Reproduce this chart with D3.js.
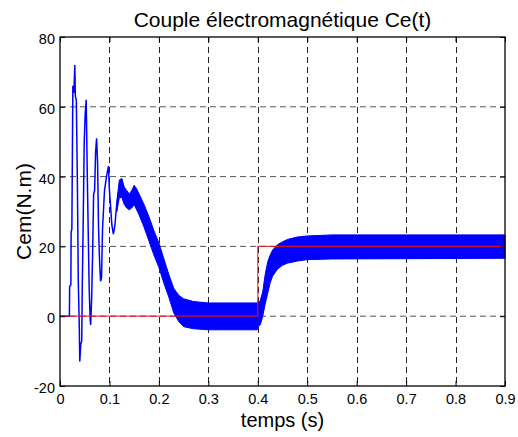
<!DOCTYPE html>
<html>
<head>
<meta charset="utf-8">
<script src="https://cdn.jsdelivr.net/npm/d3@7"></script>
<style>
  body { margin: 0; background: #fff; }
  text { font-family: "Liberation Sans", Arial, sans-serif; fill: #000; }
</style>
</head>
<body>
<div id="chart"></div>
<script>
/* CONSTANTS AND GLOBALS */

// plot box inside the 518x437 window
var margin = {top: 37, right: 13, bottom: 51, left: 60},
    width = 518 - margin.left - margin.right,
    height = 437 - margin.top - margin.bottom;

// tick labels
var xTicks = [0, 0.1, 0.2, 0.3, 0.4, 0.5, 0.6, 0.7, 0.8, 0.9];
var yTicks = [-20, 0, 20, 40, 60, 80];

// start-up transient of Ce(t) (s, N.m)
var transTime  = [0, 0.019, 0.0195, 0.022, 0.0225, 0.024, 0.026, 0.028, 0.030, 0.031, 0.033, 0.035, 0.037, 0.039, 0.040, 0.042, 0.044, 0.045, 0.047, 0.049, 0.051, 0.053, 0.055, 0.057, 0.059, 0.061, 0.062, 0.064, 0.066, 0.068, 0.070, 0.072, 0.074, 0.076, 0.078, 0.080, 0.082, 0.084, 0.086, 0.090, 0.094, 0.098, 0.100, 0.102, 0.105, 0.108, 0.111, 0.114, 0.118, 0.121];
var transValue = [0, 0, 8.5, 9, 24, 25, 66, 64, 72, 63, 62, 40, 10, -3, -13, -8, -7, 8, 28, 50, 58, 62, 42, 25, 8, -1, -2.5, 5, 18, 35, 36, 47, 51, 44, 25, 16, 10, 11, 25, 36, 40, 43, 36, 32, 26, 23.5, 26, 31, 35, 38];

// ripple band of Ce(t): upper and lower envelope (N.m)
var bandTime  = [0.115, 0.120, 0.125, 0.130, 0.135, 0.140, 0.145, 0.150, 0.155, 0.160, 0.170, 0.180, 0.190, 0.200, 0.210, 0.220, 0.230, 0.240, 0.250, 0.270, 0.300, 0.399, 0.401, 0.405, 0.410, 0.415, 0.420, 0.425, 0.430, 0.440, 0.450, 0.460, 0.480, 0.500, 0.550, 0.900];
var bandUpper = [33, 39, 39.5, 37, 36, 35, 36, 37.5, 36.5, 35, 32, 28.5, 24.5, 21, 16.5, 12, 8, 6, 5, 4.2, 3.8, 3.8, 3.8, 4.5, 7, 12, 15.5, 17.5, 19, 20.5, 21.3, 22, 22.7, 23, 23.3, 23.3];
var bandLower = [30, 34, 34, 32, 31, 30.5, 31, 32, 30.5, 29, 25.5, 21.5, 17.5, 14, 9.5, 5.5, 1, -1.5, -3, -3.6, -3.9, -3.9, -2.9, -2.5, 0, 3.5, 6.5, 9.5, 11.5, 13.5, 14.6, 15.2, 15.8, 16.2, 16.4, 16.6];

// load torque reference
var refTime  = [0, 0.4, 0.4, 0.9];
var refValue = [0, 0, 20, 20];

/* SCALES */
var x = d3.scaleLinear().domain([0, 0.9]).range([0, width]);
var y = d3.scaleLinear().domain([-20, 80]).range([height, 0]);

/* HTML ELEMENTS */
var root = d3.select("#chart").append("svg")
  .attr("width", width + margin.left + margin.right)
  .attr("height", height + margin.top + margin.bottom);

var svg = root.append("g")
  .attr("transform", "translate(" + margin.left + "," + margin.top + ")");

// dashed grid
svg.selectAll(".vgrid")
  .data(xTicks.slice(1, -1))
  .enter().append("line")
  .attr("x1", d => Math.round(x(d)) + 0.5)
  .attr("x2", d => Math.round(x(d)) + 0.5)
  .attr("y1", 0)
  .attr("y2", height)
  .attr("stroke", "#222")
  .attr("stroke-dasharray", "6,4");

svg.selectAll(".hgrid")
  .data(yTicks.slice(1, -1))
  .enter().append("line")
  .attr("x1", 0)
  .attr("x2", width)
  .attr("y1", d => y(d))
  .attr("y2", d => y(d))
  .attr("stroke", "#555")
  .attr("stroke-dasharray", "6,4");

// ripple band
var band = bandTime.map((t, i) => ({t: t, hi: bandUpper[i], lo: bandLower[i]}));
svg.append("path")
  .datum(band)
  .attr("d", d3.area()
    .x(d => x(d.t))
    .y0(d => y(d.lo))
    .y1(d => y(d.hi)))
  .attr("fill", "#0000ff")
  .attr("stroke", "#0000ff")
  .attr("stroke-width", 1);

// transient line
var trans = transTime.map((t, i) => ({t: t, v: transValue[i]}));
svg.append("path")
  .datum(trans)
  .attr("d", d3.line().x(d => x(d.t)).y(d => y(d.v)))
  .attr("fill", "none")
  .attr("stroke", "#0000ff")
  .attr("stroke-width", 1.5);

// reference step in red
var ref = refTime.map((t, i) => ({t: t, v: refValue[i]}));
svg.append("path")
  .datum(ref)
  .attr("d", d3.line().x(d => x(d.t)).y(d => y(d.v)))
  .attr("fill", "none")
  .attr("stroke", "#ee1122")
  .attr("stroke-opacity", 0.85)
  .attr("stroke-width", 1.2);

// axes with inner ticks, matlab style
svg.append("g")
  .attr("transform", "translate(0," + height + ")")
  .call(d3.axisBottom(x).tickValues(xTicks).tickSize(-5).tickPadding(8)
    .tickFormat(d => d === 0 ? "0" : d3.format(".1f")(d)));
svg.append("g")
  .call(d3.axisTop(x).tickValues(xTicks).tickSize(-5).tickFormat(""));
var yAxis = svg.append("g")
  .call(d3.axisLeft(y).tickValues(yTicks).tickSize(-5).tickPadding(5)
    .tickFormat(d => String(d)));
svg.append("g")
  .attr("transform", "translate(" + width + ",0)")
  .call(d3.axisRight(y).tickValues(yTicks).tickSize(-5).tickFormat(""));

svg.selectAll(".domain").remove();
svg.selectAll(".tick line").attr("stroke", "#000");
svg.selectAll(".tick text")
  .style("font-family", "'Liberation Sans', Arial, sans-serif")
  .style("font-size", "14.5px")
  .attr("fill", "#000");
yAxis.selectAll(".tick text").attr("dy", "0.45em");

// box
svg.append("rect")
  .attr("x", 0)
  .attr("y", 0)
  .attr("width", width)
  .attr("height", height)
  .attr("fill", "none")
  .attr("stroke", "#000")
  .attr("stroke-width", 1.3);

// title and axis labels
root.append("text")
  .attr("x", margin.left + width / 2)
  .attr("y", 27)
  .style("text-anchor", "middle")
  .style("font-size", "21px")
  .text("Couple électromagnétique Ce(t)");

root.append("text")
  .attr("x", margin.left + width / 2)
  .attr("y", 427)
  .style("text-anchor", "middle")
  .style("font-size", "20px")
  .text("temps (s)");

root.append("text")
  .attr("transform", "rotate(-90)")
  .attr("x", -(margin.top + height / 2))
  .attr("y", 31)
  .style("text-anchor", "middle")
  .style("font-size", "21px")
  .text("Cem(N.m)");
</script>
</body>
</html>
